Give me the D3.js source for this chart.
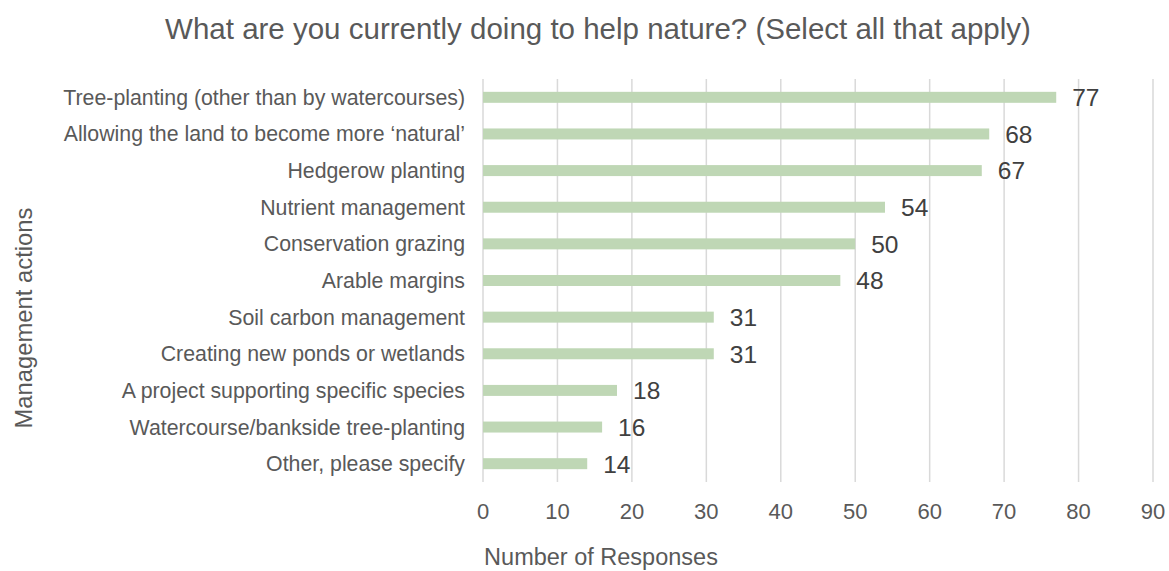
<!DOCTYPE html>
<html>
<head>
<meta charset="utf-8">
<script src="https://cdn.jsdelivr.net/npm/d3@7"></script>
<style>
  body { margin: 0; background: #fff; }
  text { font-family: "Liberation Sans", Arial, sans-serif; }
</style>
</head>
<body>
<div id="chart"></div>
<script>
const categories = [
  "Tree-planting (other than by watercourses)",
  "Allowing the land to become more \u2018natural\u2019",
  "Hedgerow planting",
  "Nutrient management",
  "Conservation grazing",
  "Arable margins",
  "Soil carbon management",
  "Creating new ponds or wetlands",
  "A project supporting specific species",
  "Watercourse/bankside tree-planting",
  "Other, please specify"
];
const responses = [77, 68, 67, 54, 50, 48, 31, 31, 18, 16, 14];
const xTicks = [0, 10, 20, 30, 40, 50, 60, 70, 80, 90];

const width = 1169;
const height = 571;
const margin = { top: 79, right: 16, bottom: 89, left: 483 };

const svg = d3.select('#chart')
  .append('svg')
    .attr('width', width)
    .attr('height', height);

const x = d3.scaleLinear()
  .domain([0, 90])
  .range([margin.left, width - margin.right]);

const y = d3.scaleBand()
  .domain(categories)
  .range([margin.top, height - margin.bottom])
  .paddingInner(0.7)
  .paddingOuter(0.35);

// gridlines
svg.append('g')
  .selectAll('line')
  .data(xTicks)
  .join('line')
    .attr('x1', d => x(d))
    .attr('x2', d => x(d))
    .attr('y1', margin.top)
    .attr('y2', height - margin.bottom)
    .attr('stroke', '#d9d9d9')
    .attr('stroke-width', 1.5);

// tick labels
svg.append('g')
  .selectAll('text')
  .data(xTicks)
  .join('text')
    .attr('x', d => x(d))
    .attr('y', 519)
    .attr('text-anchor', 'middle')
    .attr('fill', '#595959')
    .style('font-size', '22px')
    .text(d => d);

// bars
svg.append('g')
  .selectAll('rect')
  .data(categories)
  .join('rect')
    .attr('x', x(0))
    .attr('y', d => y(d))
    .attr('width', (d, i) => x(responses[i]) - x(0))
    .attr('height', y.bandwidth())
    .attr('fill', '#bfd7b5');

// category labels
svg.append('g')
  .selectAll('text')
  .data(categories)
  .join('text')
    .attr('x', margin.left - 18)
    .attr('y', d => y(d) + y.bandwidth() / 2)
    .attr('dy', '0.35em')
    .attr('text-anchor', 'end')
    .attr('fill', '#595959')
    .style('font-size', '21.3px')
    .text(d => d);

// value labels
svg.append('g')
  .selectAll('text')
  .data(categories)
  .join('text')
    .attr('x', (d, i) => x(responses[i]) + 16)
    .attr('y', d => y(d) + y.bandwidth() / 2)
    .attr('dy', '0.36em')
    .attr('fill', '#404040')
    .style('font-size', '24.5px')
    .text((d, i) => responses[i]);

// title
svg.append('text')
  .attr('x', 598)
  .attr('y', 39)
  .attr('text-anchor', 'middle')
  .attr('fill', '#595959')
  .style('font-size', '29.5px')
  .text('What are you currently doing to help nature? (Select all that apply)');

// axis titles
svg.append('text')
  .attr('x', 601)
  .attr('y', 565)
  .attr('text-anchor', 'middle')
  .attr('fill', '#595959')
  .style('font-size', '23.5px')
  .text('Number of Responses');

svg.append('text')
  .attr('transform', 'translate(32,318) rotate(-90)')
  .attr('text-anchor', 'middle')
  .attr('fill', '#595959')
  .style('font-size', '23.8px')
  .text('Management actions');
</script>
</body>
</html>
